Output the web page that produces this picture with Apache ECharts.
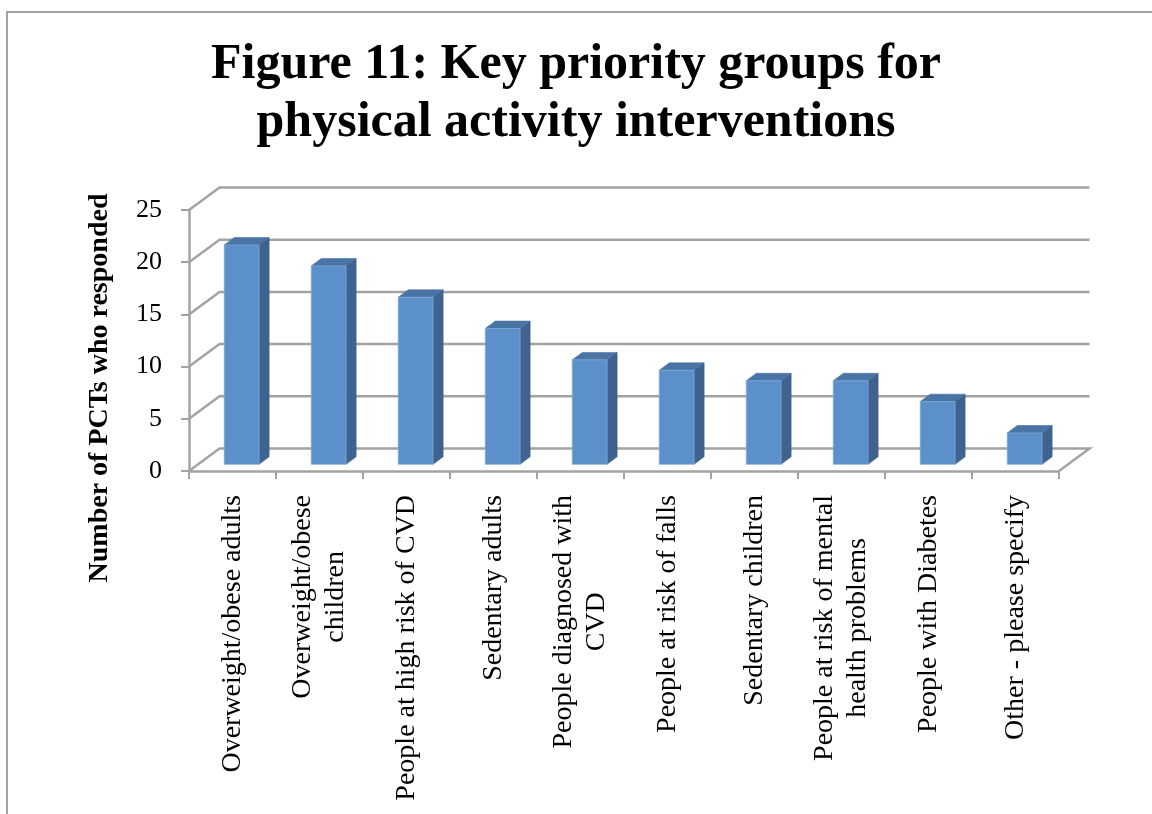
<!DOCTYPE html>
<html>
<head>
<meta charset="utf-8">
<script src="https://cdn.jsdelivr.net/npm/echarts@6/dist/echarts.min.js"></script>
<style>
  html, body { margin: 0; padding: 0; background: #fff; }
  #chart { width: 1152px; height: 814px; }
</style>
</head>
<body>
<div id="chart"></div>
<script>
// Priority groups and number of PCTs naming each one
const categories = [
  'Overweight/obese adults',
  'Overweight/obese\nchildren',
  'People at high risk of CVD',
  'Sedentary adults',
  'People diagnosed with\nCVD',
  'People at risk of falls',
  'Sedentary children',
  'People at risk of mental\nhealth problems',
  'People with Diabetes',
  'Other - please specify'
];
const responses = [21, 19, 16, 13, 10, 9, 8, 8, 6, 3];
const yTicks = [0, 5, 10, 15, 20, 25];

const titleText = 'Figure 11: Key priority groups for\nphysical activity interventions';
const yAxisTitle = 'Number of PCTs who responded';

// 3D projection: depth vector of the chart box (pixels)
const DEPTH = [30.5, -22.5];
const BAR_FRONT = 0.30;   // depth at which bar front face sits
const BAR_DEPTH = 0.33;   // bar thickness as share of the box depth
const BAR_WIDTH = 0.40;   // bar width as share of the category band
const GRID_COLOR = '#A3A3A3';
const SERIF = '"Liberation Serif", "Times New Roman", serif';

const chart = echarts.init(document.getElementById('chart'), null, { renderer: 'canvas' });

function renderWall(params, api) {
  const v = api.value(1);
  const band = api.size([1, 0])[0];
  const first = api.coord([0, v]);
  const last = api.coord([categories.length - 1, v]);
  const left = first[0] - band / 2;
  const right = last[0] + band / 2;
  const y = first[1];
  const pts = [
    [left, y],
    [left + DEPTH[0], y + DEPTH[1]],
    [right + DEPTH[0], y + DEPTH[1]]
  ];
  if (v === 0) pts.push([right, y]);
  return {
    type: 'polyline',
    shape: { points: pts },
    style: { stroke: GRID_COLOR, lineWidth: 2.5, fill: null }
  };
}

function renderBar(params, api) {
  const idx = api.value(0);
  const base = api.coord([idx, 0]);
  const top = api.coord([idx, api.value(1)]);
  const band = api.size([1, 0])[0];
  const w = band * BAR_WIDTH;
  const ox = DEPTH[0] * BAR_FRONT, oy = DEPTH[1] * BAR_FRONT;
  const sx = DEPTH[0] * BAR_DEPTH, sy = DEPTH[1] * BAR_DEPTH;
  const x0 = base[0] - w / 2 + ox;
  const x1 = x0 + w;
  const yb = base[1] + oy;
  const yt = top[1] + oy;
  return {
    type: 'group',
    children: [
      {
        type: 'polygon',
        shape: { points: [[x1, yt], [x1 + sx, yt + sy], [x1 + sx, yb + sy], [x1, yb]] },
        style: { fill: '#3E638F', stroke: '#3A5D87', lineWidth: 0.6 }
      },
      {
        type: 'polygon',
        shape: { points: [[x0, yt], [x1, yt], [x1 + sx, yt + sy], [x0 + sx, yt + sy]] },
        style: { fill: '#4A74A5', stroke: '#4670A0', lineWidth: 0.6 }
      },
      {
        type: 'rect',
        shape: { x: x0, y: yt, width: w, height: yb - yt },
        style: { fill: '#5B90CA', stroke: '#7FA8D6', lineWidth: 0.8 }
      }
    ]
  };
}

chart.setOption({
  animation: false,
  title: {
    text: titleText,
    left: 'center',
    top: 31,
    textStyle: {
      fontFamily: SERIF,
      fontWeight: 'bold',
      fontSize: 50,
      lineHeight: 58,
      color: '#000'
    }
  },
  graphic: [
    {
      type: 'rect',
      shape: { x: 7, y: 12, width: 1200, height: 900 },
      style: { fill: null, stroke: '#A0A0A0', lineWidth: 2 },
      silent: true
    },
    {
      type: 'text',
      x: 100,
      y: 388,
      rotation: Math.PI / 2,
      style: {
        text: yAxisTitle,
        fontFamily: SERIF,
        fontWeight: 'bold',
        fontSize: 28,
        fill: '#000',
        align: 'center',
        verticalAlign: 'middle'
      }
    }
  ],
  grid: { left: 189, right: 93, top: 210, bottom: 343 },
  xAxis: {
    type: 'category',
    data: categories,
    boundaryGap: true,
    axisLine: { show: true, lineStyle: { color: GRID_COLOR, width: 2.5 } },
    axisTick: { show: true, alignWithLabel: false, interval: 0, length: 8, lineStyle: { color: GRID_COLOR, width: 2 } },
    splitLine: { show: false },
    axisLabel: {
      interval: 0,
      rotate: 90,
      margin: 24,
      fontFamily: SERIF,
      fontSize: 28,
      color: '#000',
      lineHeight: 33,
      formatter: function (val) {
        return val.split('\n').map(function (s) { return '{c|' + s + '}'; }).join('\n');
      },
      rich: { c: { align: 'center', fontFamily: SERIF, fontSize: 28, lineHeight: 33, color: '#000' } }
    }
  },
  yAxis: {
    type: 'value',
    min: 0,
    max: 25,
    interval: 5,
    axisLine: { show: true, lineStyle: { color: GRID_COLOR, width: 2.5 } },
    axisTick: { show: true, length: 8, lineStyle: { color: GRID_COLOR, width: 2 } },
    splitLine: { show: false },
    axisLabel: { margin: 27, fontFamily: SERIF, fontSize: 26, color: '#000' }
  },
  series: [
    {
      type: 'custom',
      name: 'walls',
      renderItem: renderWall,
      data: yTicks.map(function (v) { return [0, v]; }),
      z: 1,
      silent: true
    },
    {
      type: 'custom',
      name: 'responses',
      renderItem: renderBar,
      data: responses.map(function (v, i) { return [i, v]; }),
      z: 3
    }
  ]
});
</script>
</body>
</html>
